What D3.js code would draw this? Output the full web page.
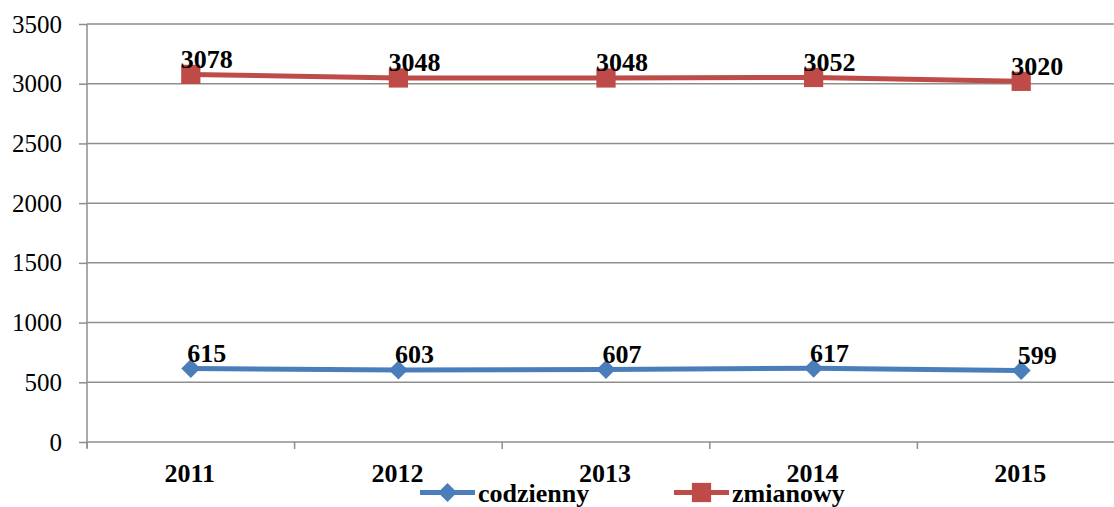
<!DOCTYPE html>
<html><head><meta charset="utf-8">
<script src="https://cdn.jsdelivr.net/npm/d3@7"></script>
</head><body style="margin:0;background:#fff"><svg id="c" width="1114" height="507" style="display:block"></svg>
<script>
const categories = ["2011","2012","2013","2014","2015"];
const codzienny = [615,603,607,617,599];
const zmianowy = [3078,3048,3048,3052,3020];
const yTicks = [0,500,1000,1500,2000,2500,3000,3500];
const seriesNames = ["codzienny","zmianowy"];

(function(){
const svg = d3.select("#c");
const pL = 87, pR = 1125, pT = 24, pB = 442;
const x = d3.scaleBand().domain(categories).range([pL,pR]);
const y = d3.scaleLinear().domain([0,3500]).range([pB,pT]);
const grey = "#8e8e8e";
const FF = '"Liberation Serif"';

// gridlines
svg.append("g").selectAll("line").data(yTicks.filter(d=>d>0)).join("line")
  .attr("x1",pL).attr("x2",1114).attr("y1",d=>y(d)).attr("y2",d=>y(d))
  .attr("stroke",grey).attr("stroke-width",1.5);

// y axis
const ya = svg.append("g").attr("transform",`translate(${pL},0)`)
  .call(d3.axisLeft(y).tickValues(yTicks).tickSize(8).tickPadding(17).tickFormat(d3.format("d")));
ya.select(".domain").attr("stroke",grey).attr("stroke-width",1.5).attr("d",`M0,${pT}V${pB+6}`);
ya.selectAll(".tick line").attr("stroke",grey).attr("stroke-width",1.5);
ya.selectAll("text").style("font-family",FF).style("font-size","25px").attr("fill","#000");

// x axis
const xa = svg.append("g").attr("transform",`translate(0,${pB})`);
xa.append("line").attr("x1",pL).attr("x2",1114).attr("y1",0).attr("y2",0).attr("stroke",grey).attr("stroke-width",1.5);
const bounds = categories.map(c=>x(c)).concat([pR]);
xa.selectAll("line.t").data(bounds.filter(b=>b<1114)).join("line").attr("class","t")
  .attr("x1",d=>d).attr("x2",d=>d).attr("y1",0).attr("y2",7).attr("stroke",grey).attr("stroke-width",1.5);
xa.selectAll("text").data(categories).join("text")
  .attr("x",d=>x(d)+x.bandwidth()/2 - 1).attr("y",39.5).attr("text-anchor","middle")
  .style("font-family",FF).style("font-size","26px").style("font-weight","bold").text(d=>d);

const cx = d => x(d)+x.bandwidth()/2;
const series = [
  {name:seriesNames[0], vals:codzienny, color:"#4a7ebb", shape:d3.symbolSquare, size:180, rot:45},
  {name:seriesNames[1], vals:zmianowy, color:"#be4b48", shape:d3.symbolSquare, size:370, rot:0}
];
const line = d3.line().x((d,i)=>cx(categories[i])).y(d=>y(d));
series.forEach(s=>{
  svg.append("path").attr("d",line(s.vals)).attr("fill","none").attr("stroke",s.color).attr("stroke-width",5);
  svg.append("g").selectAll("path").data(s.vals).join("path")
    .attr("d",d3.symbol().type(s.shape).size(s.size))
    .attr("transform",(d,i)=>`translate(${cx(categories[i])},${y(d)}) rotate(${s.rot})`).attr("fill",s.color);
  svg.append("g").selectAll("text").data(s.vals).join("text")
    .attr("x",(d,i)=>cx(categories[i])+16).attr("y",d=>y(d)-6.5).attr("text-anchor","middle")
    .style("font-family",FF).style("font-size","26px").style("font-weight","bold").text(d=>d);
});

// legend
const leg = [{s:series[0],x:420},{s:series[1],x:674}];
leg.forEach(l=>{
  const g = svg.append("g");
  g.append("line").attr("x1",l.x).attr("x2",l.x+55).attr("y1",492.5).attr("y2",492.5).attr("stroke",l.s.color).attr("stroke-width",5);
  g.append("path").attr("d",d3.symbol().type(l.s.shape).size(l.s.size)).attr("transform",`translate(${l.x+27.5},492.5) rotate(${l.s.rot})`).attr("fill",l.s.color);
  g.append("text").attr("x",l.x+58).attr("y",501.5)
    .style("font-family",FF).style("font-size","26px").style("font-weight","bold").text(l.s.name);
});
})();
</script></body></html>
